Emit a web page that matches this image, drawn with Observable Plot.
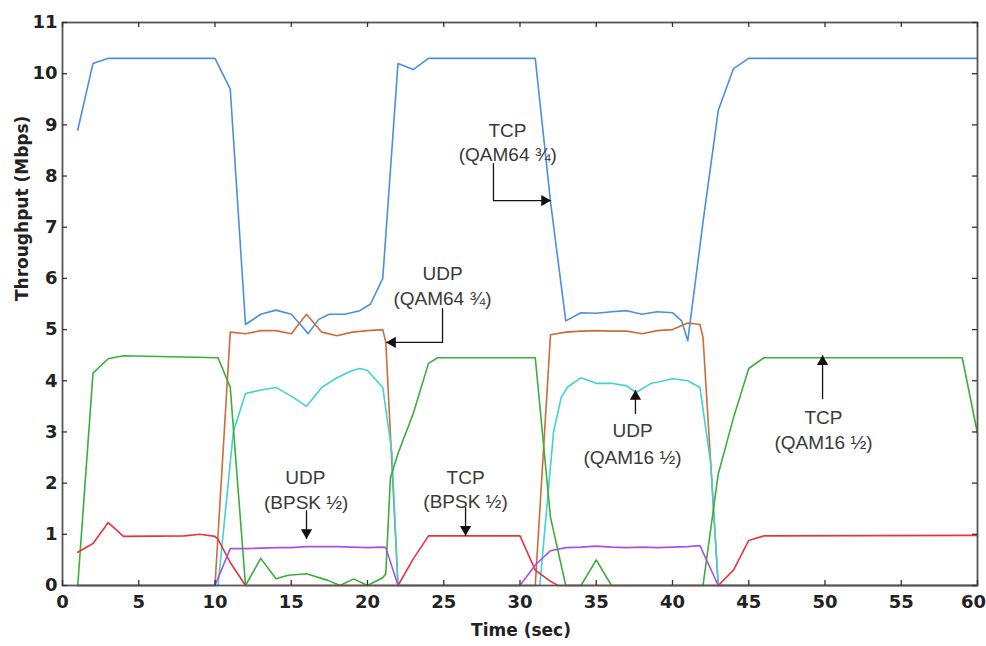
<!DOCTYPE html>
<html><head><meta charset="utf-8">
<script src="https://cdn.jsdelivr.net/npm/d3@7"></script>
<script src="https://cdn.jsdelivr.net/npm/@observablehq/plot@0.6"></script>
<style>body{margin:0;background:#fff}</style>
</head><body><div id="chart"></div>
<script>
// ---- data ----
const seriesNames = ["TCP QAM64 3/4", "UDP QAM64 3/4", "UDP QAM16 1/2", "TCP QAM16 1/2", "TCP BPSK 1/2", "UDP BPSK 1/2"];

const tcp64T = [1,2,3,10,11,12,13,14,15,15.6,16.1,16.8,17.5,18.5,19.5,20.2,21,22,23,24,31,32,33,34,35,36,37,38,39,40,40.6,41,42,43,44,45,60];
const tcp64V = [8.9,10.2,10.3,10.3,9.7,5.1,5.3,5.38,5.3,5.1,4.92,5.2,5.3,5.3,5.37,5.5,6.0,10.2,10.08,10.3,10.3,7.5,5.17,5.33,5.32,5.35,5.37,5.3,5.35,5.33,5.17,4.78,7.1,9.28,10.1,10.3,10.3];

const udp64T = [1,10,11,12,13,14,15,16,17,18,19,20,21,21.2,22,31,32,33,34,35,36,37,38,39,40,41,41.8,42,43,60];
const udp64V = [0,0,4.95,4.92,4.98,4.98,4.92,5.3,4.95,4.88,4.95,4.98,5.0,4.75,0,0,4.9,4.95,4.97,4.98,4.97,4.97,4.92,4.98,5.0,5.13,5.1,4.85,0,0];

const udp16T = [1,10.2,11.2,12,13,14,15,16,17,18,19,19.5,20,21,21.6,22,31.3,32.2,32.7,33.1,34,35,36,37,37.6,38.6,39,40,41,41.8,42.5,43,60];
const udp16V = [0,0,3.0,3.75,3.82,3.87,3.7,3.5,3.87,4.06,4.2,4.24,4.2,3.87,2.6,0,0,3.0,3.67,3.87,4.06,3.95,3.95,3.9,3.77,3.95,3.97,4.04,4.0,3.87,2.4,0,0];

const tcp16T = [1,2,3,4,10.2,11,12,13,14,14.8,16,17.4,18.2,19.1,20,21,21.2,21.5,22,23,24,24.6,31,32,33,34,35,36,42,43,44,45,46,59,60];
const tcp16V = [0,4.15,4.43,4.49,4.45,3.87,0,0.53,0.13,0.2,0.23,0.1,0,0.13,0,0.15,0.23,2.1,2.58,3.36,4.34,4.45,4.45,1.33,0,0,0.5,0,0,2.18,3.28,4.24,4.45,4.45,2.97];

const tcpBpskT = [1,2,3,4,8,9,10,10.2,11,12,22,23,24,30,31,32,32.5,43,44,45,46,60];
const tcpBpskV = [0.65,0.82,1.23,0.96,0.97,1.0,0.96,0.9,0.45,0,0,0.52,0.97,0.97,0.3,0.08,0,0,0.3,0.88,0.97,0.98];

const udpBpskT = [1,10,11,12,13,14,15,16,17,18,19,20,21,21.2,22,30,31,32,33,34,35,36,37,38,39,40,41,41.8,43,60];
const udpBpskV = [0,0,0.72,0.72,0.73,0.74,0.74,0.76,0.76,0.76,0.75,0.74,0.75,0.74,0,0,0.4,0.68,0.74,0.75,0.77,0.75,0.74,0.75,0.74,0.75,0.76,0.78,0,0];

const xTicks = [0,5,10,15,20,25,30,35,40,45,50,55,60];
const yTicks = [0,1,2,3,4,5,6,7,8,9,10,11];

// annotation texts (centres in data units)
const labelText = ["TCP","(QAM64 ¾)","UDP","(QAM64 ¾)","UDP","(BPSK ½)","TCP","(BPSK ½)","UDP","(QAM16 ½)","TCP","(QAM16 ½)"];
const labelT = [29.18,29.2,24.92,24.92,15.93,15.98,26.43,26.43,37.38,37.38,49.9,49.9];
const labelV = [8.89,8.42,6.09,5.6,2.11,1.62,2.11,1.64,3.03,2.5,3.28,2.79];

// annotation arrows (polyline points, data units)
const arrowId = [1,1,1,2,2,2,3,3,4,4,5,5,6,6];
const arrowT  = [28.26,28.26,32.0, 24.92,24.92,21.25, 16.0,16.0, 26.43,26.43, 37.57,37.57, 49.84,49.84];
const arrowV  = [8.24,7.52,7.52, 5.41,4.75,4.75, 1.46,0.92, 1.52,0.98, 3.36,3.81, 3.65,4.49];
const headT   = [32.0,21.25,16.0,26.43,37.57,49.84];
const headV   = [7.52,4.75,0.92,0.98,3.81,4.49];
const headDir = ["right","left","down","down","up","up"];

// ---- build tables ----
const seriesT = [tcp64T, udp64T, udp16T, tcp16T, tcpBpskT, udpBpskT];
const seriesV = [tcp64V, udp64V, udp16V, tcp16V, tcpBpskV, udpBpskV];
const rows = seriesNames.flatMap((name, i) => seriesT[i].map((t, j) => ({series: name, t, v: seriesV[i][j]})));
const labels = labelText.map((s, i) => ({s, t: labelT[i], v: labelV[i]}));
const arrows = arrowId.map((id, i) => ({id, t: arrowT[i], v: arrowV[i]}));
const heads = headT.map((t, i) => ({t, v: headV[i], dir: headDir[i]}));

const colors = ["#4a8fe0", "#cf6b3c", "#3fd3d3", "#3cae3c", "#e8343c", "#a552e6"];
const rot = {up: 0, right: 90, down: 180, left: -90};
const off = {up: [0, 6], down: [0, -6], right: [-6, 0], left: [6, 0]};
const headMark = dir => Plot.dot(heads.filter(d => d.dir === dir), {
  x: "t", y: "v", symbol: "triangle", r: 4.2, fill: "#111", stroke: "none",
  rotate: rot[dir], dx: off[dir][0], dy: off[dir][1]
});

const plotH = 646 - 22 - 61, plotW = 986 - 62 - 9;
const tickStyle = {stroke: "#333", strokeWidth: 1.3};
const tickFont = {fontSize: 18, fontWeight: "bold", fontFamily: "DejaVu Sans", fill: "#222", label: null, tickFormat: d => String(d)};

const chart = Plot.plot({
  width: 986, height: 646,
  marginLeft: 62, marginRight: 9, marginTop: 22, marginBottom: 61,
  style: {fontFamily: "'Liberation Sans', Arial, sans-serif", background: "#fff"},
  x: {domain: [0, 60]},
  y: {domain: [0, 11]},
  color: {domain: seriesNames, range: colors},
  marks: [
    Plot.line(rows, {x: "t", y: "v", z: "series", stroke: "series", strokeWidth: 1.6, strokeLinejoin: "round"}),
    Plot.line(arrows, {x: "t", y: "v", z: "id", stroke: "#111", strokeWidth: 1.3}),
    headMark("up"), headMark("down"), headMark("left"), headMark("right"),
    Plot.text(labels, {x: "t", y: "v", text: "s", fontSize: 19, fill: "#3a3a3a", lineAnchor: "middle"}),
    Plot.frame({stroke: "#555", strokeWidth: 1.8}),
    Plot.tickX(xTicks, {x: d => d, insetTop: plotH - 5, ...tickStyle}),
    Plot.tickX(xTicks, {x: d => d, insetBottom: plotH - 5, ...tickStyle}),
    Plot.tickY(yTicks, {y: d => d, insetRight: plotW - 5, ...tickStyle}),
    Plot.tickY(yTicks, {y: d => d, insetLeft: plotW - 5, ...tickStyle}),
    Plot.axisX(xTicks.slice(0, -1), {tickSize: 0, tickPadding: 10, ...tickFont}),
    Plot.axisX(xTicks.slice(-1), {tickSize: 0, tickPadding: 10, dx: -4, ...tickFont}),
    Plot.axisY(yTicks, {tickSize: 0, tickPadding: 5, ...tickFont}),
    Plot.text(["Time (sec)"], {frameAnchor: "bottom", dy: 50, dx: 1, fontSize: 17, fontWeight: "bold", fontFamily: "DejaVu Sans", fill: "#222"}),
    Plot.text(["Throughput (Mbps)"], {frameAnchor: "left", dx: -40, dy: -3, rotate: -90, fontSize: 17, fontWeight: "bold", fontFamily: "DejaVu Sans", fill: "#222"})
  ]
});
document.getElementById("chart").appendChild(chart);
</script>
</body></html>
